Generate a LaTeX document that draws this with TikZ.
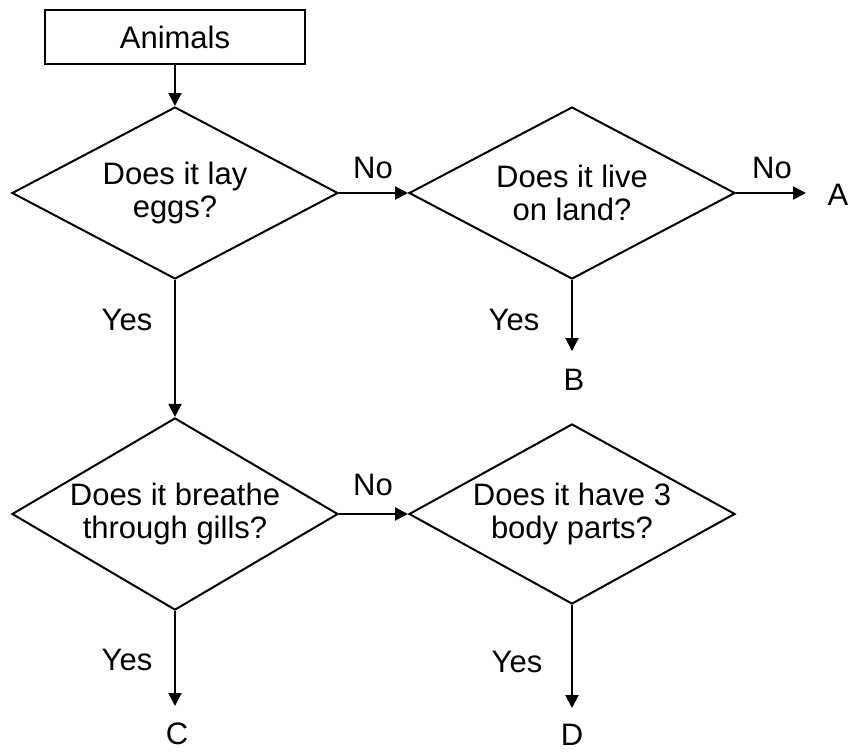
\documentclass[tikz,border=0pt]{standalone}
\usepackage{fontspec}
\setmainfont{Liberation Sans}
\usetikzlibrary{shapes.geometric,arrows.meta}
\begin{document}
\begin{tikzpicture}[x=1pt,y=-1pt,
  every node/.style={font=\fontsize{31}{33}\selectfont},
  arr/.style={line width=2pt,-{Triangle[length=13pt,width=13pt]}},
  decision/.style={draw,line width=2pt,diamond,inner sep=-20pt,minimum width=326pt,minimum height=172pt,align=center},
  startbox/.style={draw,line width=2pt,rectangle,minimum width=260pt,minimum height=54pt,inner sep=0pt},
  lbl/.style={inner sep=0pt}
]
\useasboundingbox (0,0) rectangle (850,752);
\node[startbox] (animals) at (175,37) {Animals};
\node[decision] (d1) at (175,193) {Does it lay\\eggs?};
\node[decision] (d2) at (572,193) {\fontsize{31}{36}\selectfont Does it live\\on land?};
\node[decision] (d3) at (175,514) {\fontsize{31}{28}\selectfont Does it breathe\\through gills?};
\node[decision] (d4) at (572,514) {\fontsize{31}{36}\selectfont Does it have 3\\body parts?};

\coordinate (aend) at (806,193);
\coordinate (bend) at (572,351);
\coordinate (cend) at (175,706);
\coordinate (dend) at (572,708);

\node[lbl] (A) at (838,195) {A};
\node[lbl] (B) at (574,380) {B};
\node[lbl] (C) at (177,734) {C};
\node[lbl] (D) at (572,735) {D};

\draw[arr] (animals.south) -- (d1.north);
\draw[arr] (d1.east) -- (d2.west);
\draw[arr] (d2.east) -- (aend);
\draw[arr] (d2.south) -- (bend);
\draw[arr] (d1.south) -- (d3.north);
\draw[arr] (d3.east) -- (d4.west);
\draw[arr] (d3.south) -- (cend);
\draw[arr] (d4.south) -- (dend);

\node[lbl] (no1) at (373,168) {No};
\node[lbl] (no2) at (772,168) {No};
\node[lbl] (no3) at (373,485) {No};
\node[lbl] (yes1) at (127,320) {Yes};
\node[lbl] (yes2) at (514,320) {Yes};
\node[lbl] (yes3) at (127,660) {Yes};
\node[lbl] (yes4) at (517,662) {Yes};
\end{tikzpicture}
\end{document}
